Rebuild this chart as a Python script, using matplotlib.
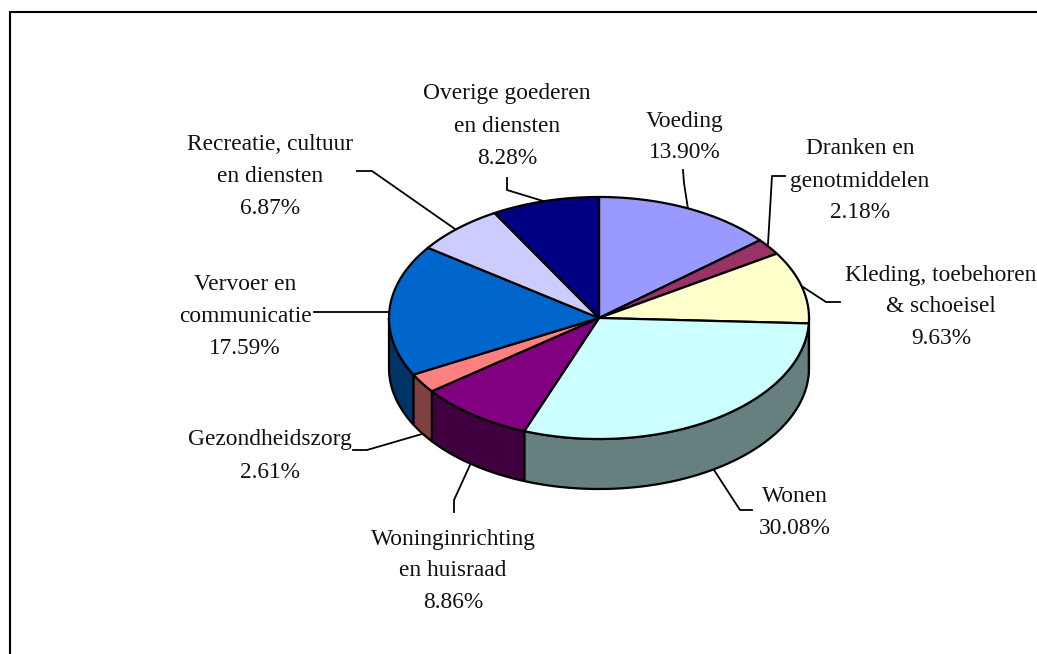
import numpy as np
import matplotlib
matplotlib.use('Agg')
import matplotlib.pyplot as plt

# categories, clockwise from the top of the pie
names = ['Voeding', 'Dranken en\ngenotmiddelen', 'Kleding, toebehoren\n& schoeisel', 'Wonen',
         'Woninginrichting\nen huisraad', 'Gezondheidszorg', 'Vervoer en\ncommunicatie',
         'Recreatie, cultuur\nen diensten', 'Overige goederen\nen diensten']
values = [13.90, 2.18, 9.63, 30.08, 8.86, 2.61, 17.59, 6.87, 8.28]
top_colors = ['#9999FF', '#993366', '#FFFFCC', '#CCFFFF', '#800080', '#FF8080', '#0066CC', '#CCCCFF', '#000080']
side_colors = ['#4D4D80', '#4D1A33', '#808066', '#668080', '#400040', '#804040', '#003366', '#666680', '#000040']

# pie geometry in pixels
cx, cy = 599, 318
rx, ry = 210, 121
depth = 50

# label centre (x, y of first line)
label_pos = [(685, 121), (860, 149), (941, 275), (795, 497), (453, 539),
             (270, 440), (245, 285), (270, 144), (507, 94)]
leaders = [[(683, 170), (684, 183), (688, 209)],
           [(785, 176), (772, 176), (768, 244)],
           [(840, 302), (826, 302), (803, 287)],
           [(714, 470), (740, 510), (752, 510)],
           [(470, 465), (454, 500), (454, 512)],
           [(353, 450), (367, 450), (422, 434)],
           [(314, 312), (390, 312)],
           [(357, 171), (372, 171), (455, 229)],
           [(507, 178), (507, 190), (543, 201)]]

plt.rcParams['font.family'] = ['Liberation Serif']

fig = plt.figure(figsize=(10.37, 6.54), dpi=100)
ax = fig.add_axes([0, 0, 1, 1])
ax.set_xlim(0, 1037)
ax.set_ylim(654, 0)
ax.axis('off')

# chart frame, runs off the right and bottom edge
ax.plot([10, 10, 1037], [654, 12, 12], color='black', lw=1.5, solid_joinstyle='miter')


def rim(a0, a1):
    t = np.radians(np.linspace(a0, a1, 120))
    return cx + rx*np.sin(t), cy - ry*np.cos(t)


edges = np.concatenate([[0], np.cumsum(values)])/np.sum(values)*360

# side wall, only the front half (90..270 deg) shows
for i in range(len(values)):
    a0, a1 = max(edges[i], 90), min(edges[i+1], 270)
    if a1 <= a0:
        continue
    x, y = rim(a0, a1)
    ax.fill(np.r_[x, x[::-1]], np.r_[y, y[::-1]+depth], facecolor=side_colors[i],
            edgecolor='black', lw=1.6, joinstyle='round', zorder=2)

# top face
for i in range(len(values)):
    x, y = rim(edges[i], edges[i+1])
    ax.fill(np.r_[cx, x], np.r_[cy, y], facecolor=top_colors[i],
            edgecolor='black', lw=1.6, joinstyle='round', zorder=3)

for line in leaders:
    xs, ys = zip(*line)
    ax.plot(xs, ys, color='black', lw=1.3, zorder=1)

for name, v, (lx, ly) in zip(names, values, label_pos):
    lines = name.split('\n') + ['{:.2f}%'.format(v)]
    for j, s in enumerate(lines):
        ax.text(lx, ly + j*32, s, ha='center', va='center', fontsize=16.8, color='#111111', clip_on=True)

fig.savefig('out.png', dpi=100)
